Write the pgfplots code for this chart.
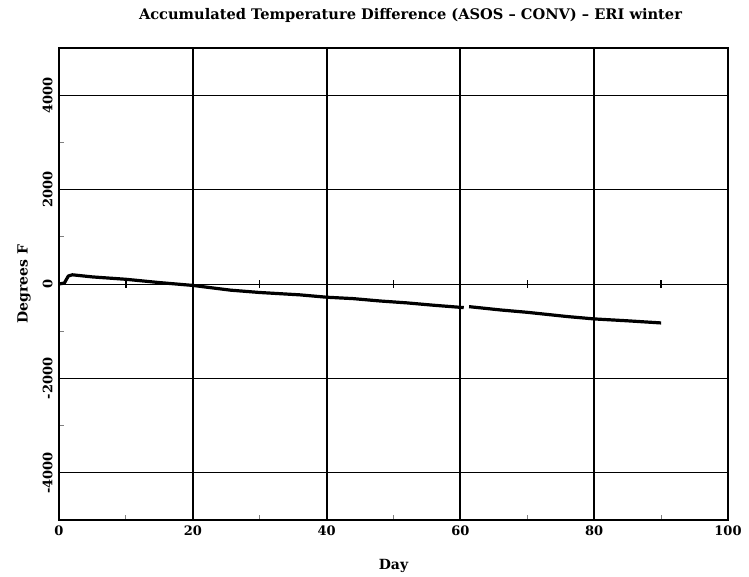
\documentclass[border=0pt]{standalone}
\usepackage{fontspec}
\setmainfont{DejaVu Serif}
\usepackage{pgfplots}
\pgfplotsset{compat=1.18}
\begin{document}
\begin{tikzpicture}
\begin{axis}[
  scale only axis,
  width=669pt, height=472pt,
  xmin=0, xmax=100, ymin=-5000, ymax=5000,
  xtick={0,20,40,60,80,100},
  ytick={-4000,-2000,0,2000,4000},
  minor x tick num=1, minor y tick num=1,
  tick pos=left, tick align=inside,
  major tick length=0pt, minor tick length=5pt,
  minor tick style={line width=1pt},
  grid=major,
  major x grid style={black, line width=2pt},
  major y grid style={black, line width=1pt},
  axis line style={line width=1.8pt},
  /pgf/number format/assume math mode=true,
  /pgf/number format/set thousands separator={},
  ticklabel style={font=\fontsize{13}{15}\selectfont\bfseries},
  yticklabel style={rotate=90, anchor=south, yshift=3pt},
  xticklabel style={yshift=-2pt},
  title={Accumulated Temperature Difference (ASOS -- CONV) -- ERI winter},
  title style={font=\fontsize{14.6}{17}\selectfont\bfseries, yshift=16pt, xshift=17pt},
  xlabel={Day}, ylabel={Degrees F},
  label style={font=\fontsize{14}{16}\selectfont\bfseries},
  xlabel style={yshift=-17pt},
  ylabel style={yshift=5pt},
  clip=false,
]
\addplot[black, line width=3.2pt, line join=round] coordinates {
(0,0) (0.8,20) (1.4,170) (2,195) (5,150) (10,100) (15,30) (20,-30) (25.6,-130) (30,-180) (36,-230) (40,-280) (44,-310) (48,-360) (52,-400) (56,-450) (60.5,-500)
};
\addplot[black, line width=3.2pt, line join=round] coordinates {
(61.3,-480) (66,-550) (70,-600) (76,-690) (80,-740) (85,-780) (90,-825)
};
\addplot[only marks, mark=|, mark size=4pt, mark options={line width=1.5pt}] coordinates {(10,0) (30,0) (50,0) (70,0) (90,0)};
\end{axis}
\path (current axis.south west) ++(-59pt,-56pt) coordinate (bl);
\path (current axis.north east) ++(21pt,48pt) coordinate (tr);
\useasboundingbox (bl) rectangle (tr);
\end{tikzpicture}
\end{document}
